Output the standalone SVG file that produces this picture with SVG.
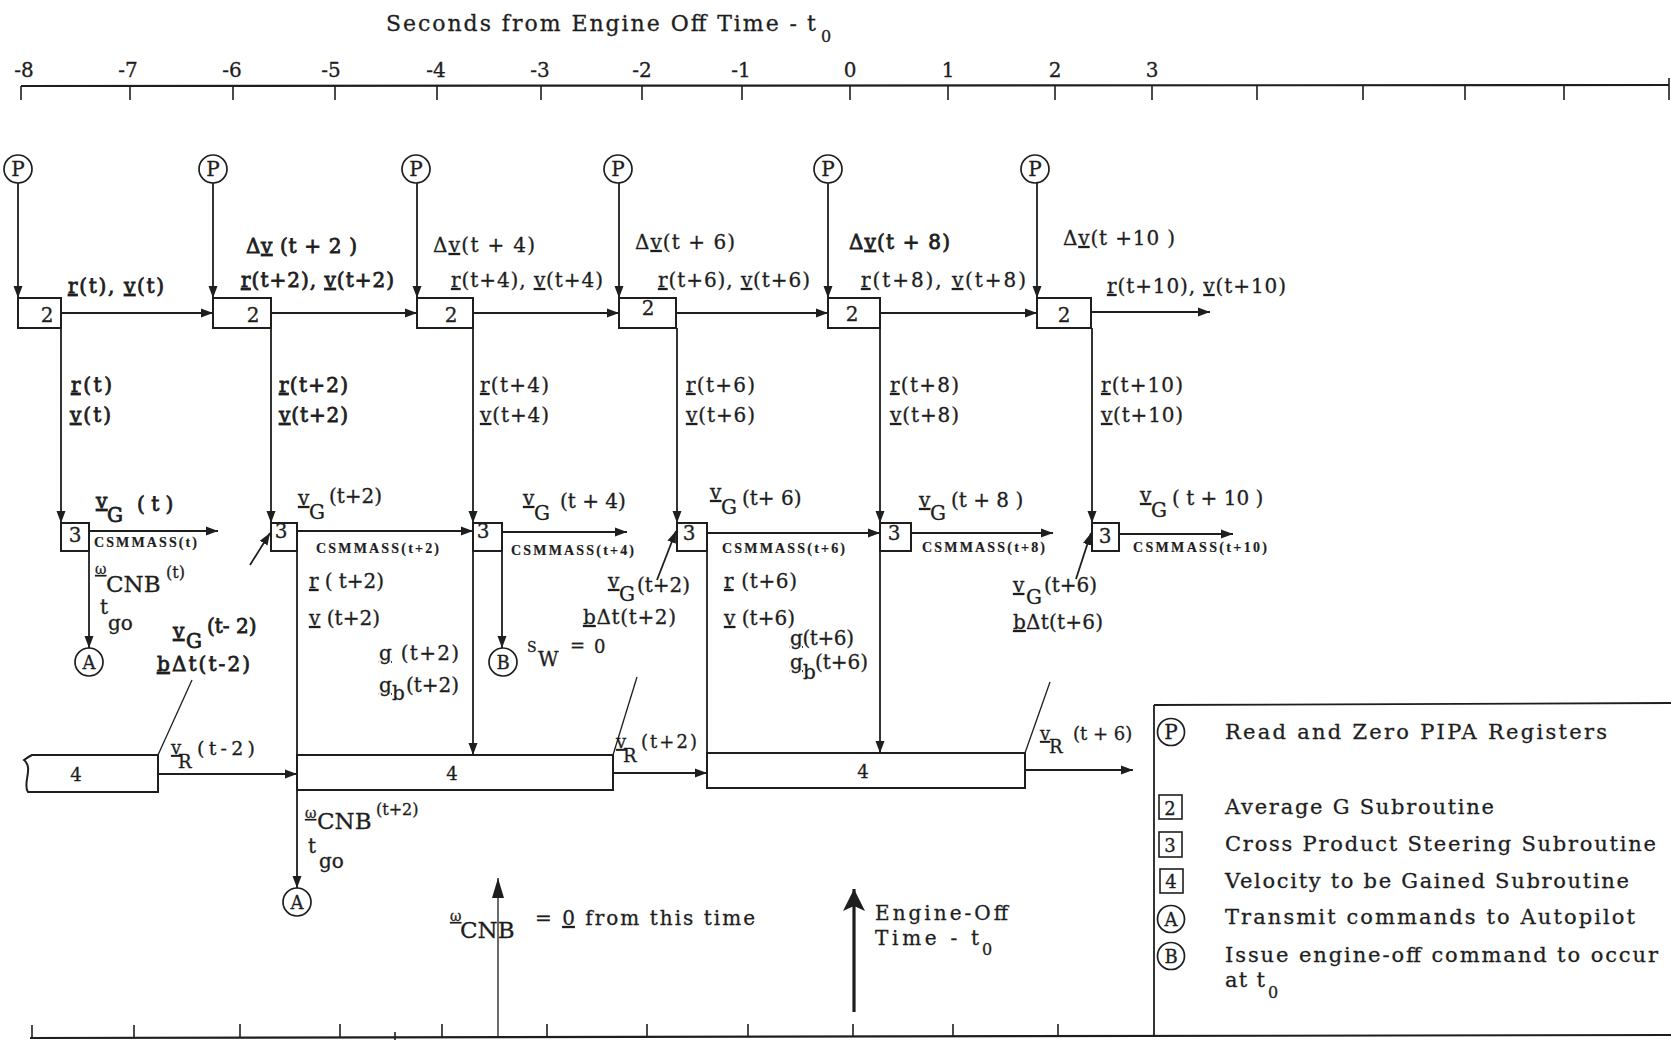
<svg xmlns="http://www.w3.org/2000/svg" width="1671" height="1040" viewBox="0 0 1671 1040">
<defs>
<style>
text{font-family:"DejaVu Serif","Liberation Serif",serif;fill:#1e1e1e;stroke:#1e1e1e;stroke-width:0.3}
.l{font-size:20px}
.m{font-size:18px}
.s{font-size:16px}
.xs{font-size:14px}
.h{stroke-width:0.8}
.cm{font-family:"Liberation Serif",serif;font-weight:bold;font-size:14px;stroke-width:0.2}
.u{text-decoration:underline}
.ln{stroke:#1e1e1e;stroke-width:1.8;fill:none}
.thin{stroke:#1e1e1e;stroke-width:1.3;fill:none}
.ax{stroke:#1e1e1e;stroke-width:2.2;fill:none}
.tk{stroke:#1e1e1e;stroke-width:1.6;fill:none}
.bx{stroke:#1e1e1e;stroke-width:2;fill:#fff}
.c{stroke:#1e1e1e;stroke-width:1.7;fill:#fff}
.lg{font-size:21px}
</style>
<marker id="ah" viewBox="0 0 12 10" refX="12" refY="5" markerWidth="12" markerHeight="10" markerUnits="userSpaceOnUse" orient="auto"><path d="M0,0.5 L12,5 L0,9.5 z" fill="#1e1e1e"/></marker>
<marker id="mid" viewBox="0 0 20 12" refX="20" refY="6" markerWidth="20" markerHeight="12" markerUnits="userSpaceOnUse" orient="auto"><path d="M0,0 L20,6 L0,12 z" fill="#1e1e1e"/></marker>
<marker id="big" viewBox="0 0 22 22" refX="22" refY="11" markerWidth="22" markerHeight="22" markerUnits="userSpaceOnUse" orient="auto"><path d="M0,0 L22,11 L0,22 L5,11 z" fill="#1e1e1e"/></marker>
</defs>
<rect width="1671" height="1040" fill="#fff"/>

<g id="top-axis">
<text x="386" y="31" style="font-size:22px" textLength="411">Seconds from Engine Off Time -</text>
<text x="807" y="31" style="font-size:22px">t</text>
<text x="821" y="42" class="s">0</text>
<path class="ax" d="M21,86 L1669,85"/>
<path class="tk" d="M21,86 V100 M130,86 V100 M233,86 V100 M335,86 V100 M437,86 V100 M541,86 V100 M642,86 V100 M742,86 V100 M850,86 V100 M948,86 V100 M1055,86 V100 M1152,86 V100 M1257,86 V100 M1363,86 V100 M1465,86 V100 M1564,86 V100 M1669,78 V100"/>
<g class="l" text-anchor="middle">
<text x="24" y="77">-8</text><text x="128" y="77">-7</text><text x="232" y="77">-6</text><text x="331" y="77">-5</text>
<text x="436" y="77">-4</text><text x="540" y="77">-3</text><text x="642" y="77">-2</text><text x="741" y="77">-1</text>
<text x="850" y="77">0</text><text x="948" y="77">1</text><text x="1055" y="77">2</text><text x="1152" y="77">3</text>
</g>
</g>

<g id="bottom-axis">
<path class="ax" d="M30,1038 L1671,1035"/>
<path class="tk" d="M32,1038 V1025 M134,1038 V1025 M240,1037 V1024 M340,1037 V1024 M442,1037 V1024 M547,1037 V1024 M647,1037 V1024 M748,1037 V1024 M853,1037 V1024 M953,1037 V1024 M1058,1037 V1024 M395,1032 V1043"/>
</g>

<g id="connectors">
<path class="ln" marker-end="url(#ah)" d="M18,183 V298"/>
<path class="ln" marker-end="url(#ah)" d="M213,183 V298"/>
<path class="ln" marker-end="url(#ah)" d="M417,183 V298"/>
<path class="ln" marker-end="url(#ah)" d="M619,183 V298"/>
<path class="ln" marker-end="url(#ah)" d="M828,183 V298"/>
<path class="ln" marker-end="url(#ah)" d="M1037,183 V298"/>
<path class="ln" marker-end="url(#ah)" d="M61,313 H213"/>
<path class="ln" marker-end="url(#ah)" d="M271,313 H417"/>
<path class="ln" marker-end="url(#ah)" d="M473,313 H619"/>
<path class="ln" marker-end="url(#ah)" d="M676,313 H828"/>
<path class="ln" marker-end="url(#ah)" d="M880,313 H1037"/>
<path class="ln" marker-end="url(#ah)" d="M1091,312 H1210"/>
<path class="ln" marker-end="url(#ah)" d="M61,328 V523"/>
<path class="ln" marker-end="url(#ah)" d="M271,328 V523"/>
<path class="ln" marker-end="url(#ah)" d="M473,328 V523"/>
<path class="ln" marker-end="url(#ah)" d="M677,328 V523"/>
<path class="ln" marker-end="url(#ah)" d="M880,328 V523"/>
<path class="ln" marker-end="url(#ah)" d="M1092,328 V523"/>
<path class="ln" marker-end="url(#ah)" d="M89,531 H218"/>
<path class="ln" marker-end="url(#ah)" d="M297,531 H473"/>
<path class="ln" marker-end="url(#ah)" d="M502,532 H627"/>
<path class="ln" marker-end="url(#ah)" d="M707,533 H880"/>
<path class="ln" marker-end="url(#ah)" d="M911,533 H1053"/>
<path class="ln" marker-end="url(#ah)" d="M1119,534 H1233"/>
<path class="ln" marker-end="url(#ah)" d="M89,551 V648"/>
<path class="ln" marker-end="url(#ah)" d="M297,551 V888"/>
<path class="ln" marker-end="url(#ah)" d="M473,551 V755"/>
<path class="ln" marker-end="url(#ah)" d="M502,551 V648"/>
<path class="ln" d="M707,551 V753"/>
<path class="ln" marker-end="url(#ah)" d="M880,551 V753"/>
<path class="ln" marker-end="url(#ah)" d="M250,565 L270,533"/>
<path class="ln" marker-end="url(#ah)" d="M657,580 L676,531"/>
<path class="ln" marker-end="url(#ah)" d="M1076,579 L1091,533"/>
<path class="thin" d="M192,680 L158,755"/>
<path class="thin" d="M637,677 L613,755"/>
<path class="thin" d="M1050,682 L1025,753"/>
<path class="ln" marker-end="url(#ah)" d="M158,774 H297"/>
<path class="ln" marker-end="url(#ah)" d="M613,773 H707"/>
<path class="ln" marker-end="url(#ah)" d="M1025,770 H1133"/>
<path class="thin" marker-end="url(#mid)" d="M498,1038 V878"/>
<path stroke="#1e1e1e" stroke-width="3.2" fill="none" marker-end="url(#big)" d="M854,1012 V889"/>
</g>

<g id="P1"><circle class="c" cx="18" cy="169" r="14"/><text x="18" y="176" class="l" text-anchor="middle">P</text></g>
<g id="P2"><circle class="c" cx="213" cy="169" r="14"/><text x="213" y="176" class="l" text-anchor="middle">P</text></g>
<g id="P3"><circle class="c" cx="416" cy="169" r="14"/><text x="416" y="176" class="l" text-anchor="middle">P</text></g>
<g id="P4"><circle class="c" cx="618" cy="169" r="14"/><text x="618" y="176" class="l" text-anchor="middle">P</text></g>
<g id="P5"><circle class="c" cx="828" cy="169" r="14"/><text x="828" y="176" class="l" text-anchor="middle">P</text></g>
<g id="P6"><circle class="c" cx="1035" cy="169" r="14"/><text x="1035" y="176" class="l" text-anchor="middle">P</text></g>

<g id="avg1"><rect class="bx" x="18" y="298" width="43" height="30"/><text x="47" y="322" class="l" text-anchor="middle">2</text></g>
<g id="avg2"><rect class="bx" x="213" y="298" width="58" height="30"/><text x="253" y="322" class="l" text-anchor="middle">2</text></g>
<g id="avg3"><rect class="bx" x="417" y="298" width="56" height="30"/><text x="451" y="322" class="l" text-anchor="middle">2</text></g>
<g id="avg4"><rect class="bx" x="619" y="298" width="57" height="30"/><text x="648" y="315" class="l" text-anchor="middle">2</text></g>
<g id="avg5"><rect class="bx" x="828" y="298" width="52" height="30"/><text x="852" y="321" class="l" text-anchor="middle">2</text></g>
<g id="avg6"><rect class="bx" x="1037" y="298" width="54" height="30"/><text x="1064" y="322" class="l" text-anchor="middle">2</text></g>

<g id="cps1"><rect class="bx" x="61" y="523" width="28" height="28"/><text x="75" y="542" class="l" text-anchor="middle">3</text></g>
<g id="cps2"><rect class="bx" x="271" y="523" width="26" height="28"/><text x="281" y="538" class="l" text-anchor="middle">3</text></g>
<g id="cps3"><rect class="bx" x="473" y="523" width="29" height="28"/><text x="483" y="538" class="l" text-anchor="middle">3</text></g>
<g id="cps4"><rect class="bx" x="677" y="523" width="30" height="28"/><text x="689" y="540" class="l" text-anchor="middle">3</text></g>
<g id="cps5"><rect class="bx" x="880" y="523" width="31" height="28"/><text x="894" y="540" class="l" text-anchor="middle">3</text></g>
<g id="cps6"><rect class="bx" x="1092" y="523" width="27" height="28"/><text x="1105" y="543" class="l" text-anchor="middle">3</text></g>

<g id="vtg1"><path class="bx" d="M32,755 H158 V792 H28 C22,784 34,768 24,760 C28,757 30,756 32,755 z"/><text x="76" y="781" class="m" text-anchor="middle">4</text></g>
<g id="vtg2"><rect class="bx" x="297" y="755" width="316" height="35"/><text x="452" y="780" class="m" text-anchor="middle">4</text></g>
<g id="vtg3"><rect class="bx" x="707" y="753" width="318" height="35"/><text x="863" y="778" class="m" text-anchor="middle">4</text></g>

<g id="A1"><circle class="c" cx="89" cy="662" r="14"/><text x="89" y="669" class="m" text-anchor="middle">A</text></g>
<g id="A2"><circle class="c" cx="297" cy="902" r="14"/><text x="297" y="909" class="m" text-anchor="middle">A</text></g>
<g id="B1"><circle class="c" cx="503" cy="662" r="14"/><text x="503" y="669" class="m" text-anchor="middle">B</text></g>

<g id="labels">
<text class="l h" x="68" y="293" textLength="96"><tspan class="u">r</tspan>(t), <tspan class="u">v</tspan>(t)</text>
<text class="l h" x="246" y="253" textLength="111">Δ<tspan class="u">v</tspan> (t + 2 )</text>
<text class="l h" x="241" y="287" textLength="153"><tspan class="u">r</tspan>(t+2), <tspan class="u">v</tspan>(t+2)</text>
<text class="l" x="433" y="252" textLength="102">Δ<tspan class="u">v</tspan>(t + 4)</text>
<text class="l" x="451" y="287" textLength="152"><tspan class="u">r</tspan>(t+4), <tspan class="u">v</tspan>(t+4)</text>
<text class="l" x="635" y="249" textLength="100">Δ<tspan class="u">v</tspan>(t + 6)</text>
<text class="l" x="658" y="287" textLength="152"><tspan class="u">r</tspan>(t+6), <tspan class="u">v</tspan>(t+6)</text>
<text class="l h" x="849" y="249" textLength="101">Δ<tspan class="u">v</tspan>(t + 8)</text>
<text class="l" x="861" y="287" textLength="165"><tspan class="u">r</tspan>(t+8), <tspan class="u">v</tspan>(t+8)</text>
<text class="l" x="1063" y="245" textLength="112">Δ<tspan class="u">v</tspan>(t +10 )</text>
<text class="l" x="1107" y="293" textLength="179"><tspan class="u">r</tspan>(t+10), <tspan class="u">v</tspan>(t+10)</text>
<text class="l h" x="71" y="392" textLength="41"><tspan class="u">r</tspan>(t)</text>
<text class="l h" x="70" y="422" textLength="41"><tspan class="u">v</tspan>(t)</text>
<text class="l h" x="279" y="392" textLength="69"><tspan class="u">r</tspan>(t+2)</text>
<text class="l h" x="279" y="422" textLength="69"><tspan class="u">v</tspan>(t+2)</text>
<text class="l" x="480" y="392" textLength="69"><tspan class="u">r</tspan>(t+4)</text>
<text class="l" x="480" y="422" textLength="69"><tspan class="u">v</tspan>(t+4)</text>
<text class="l" x="686" y="392" textLength="69"><tspan class="u">r</tspan>(t+6)</text>
<text class="l" x="686" y="422" textLength="69"><tspan class="u">v</tspan>(t+6)</text>
<text class="l" x="890" y="392" textLength="69"><tspan class="u">r</tspan>(t+8)</text>
<text class="l" x="890" y="422" textLength="69"><tspan class="u">v</tspan>(t+8)</text>
<text class="l" x="1101" y="392" textLength="82"><tspan class="u">r</tspan>(t+10)</text>
<text class="l" x="1101" y="422" textLength="82"><tspan class="u">v</tspan>(t+10)</text>
<text class="l h"><tspan class="u" x="96" y="508">v</tspan><tspan x="107" y="522">G</tspan><tspan x="137" y="511">( t )</tspan></text>
<text class="l"><tspan class="u" x="298" y="505">v</tspan><tspan x="309" y="519">G</tspan><tspan x="329" y="503">(t+2)</tspan></text>
<text class="l"><tspan class="u" x="523" y="505">v</tspan><tspan x="534" y="520">G</tspan><tspan x="560" y="508">(t + 4)</tspan></text>
<text class="l"><tspan class="u" x="710" y="499">v</tspan><tspan x="721" y="514">G</tspan><tspan x="742" y="505">(t+ 6)</tspan></text>
<text class="l"><tspan class="u" x="919" y="507">v</tspan><tspan x="930" y="520">G</tspan><tspan x="951" y="507">(t + 8 )</tspan></text>
<text class="l"><tspan class="u" x="1140" y="502">v</tspan><tspan x="1151" y="517">G</tspan><tspan x="1172" y="505">( t + 10 )</tspan></text>
<text class="cm" x="94" y="547" textLength="103">CSMMASS(t)</text>
<text class="cm" x="316" y="553" textLength="123">CSMMASS(t+2)</text>
<text class="cm" x="511" y="555" textLength="123">CSMMASS(t+4)</text>
<text class="cm" x="722" y="553" textLength="123">CSMMASS(t+6)</text>
<text class="cm" x="922" y="552" textLength="123">CSMMASS(t+8)</text>
<text class="cm" x="1133" y="552" textLength="134">CSMMASS(t+10)</text>
<text><tspan class="xs u" x="95" y="574">ω</tspan><tspan style="font-size:23px" x="106" y="592">CNB</tspan><tspan class="s" x="166" y="578">(t)</tspan></text>
<text class="l"><tspan x="100" y="614">t</tspan><tspan x="108" y="630">go</tspan></text>
<text class="l h"><tspan class="u" x="173" y="638">v</tspan><tspan x="186" y="648">G</tspan><tspan x="207" y="633">(t- 2)</tspan></text>
<text class="l h" x="157" y="671" textLength="93"><tspan class="u">b</tspan>Δt(t-2)</text>
<text class="l" x="309" y="588" textLength="75"><tspan class="u">r</tspan> ( t+2)</text>
<text class="l" x="309" y="625" textLength="71"><tspan class="u">v</tspan> (t+2)</text>
<text class="l" x="379" y="660" textLength="80"><tspan class="u">g</tspan>  (t+2)</text>
<text class="l"><tspan class="u" x="379" y="692">g</tspan><tspan x="392" y="700">b</tspan><tspan x="406" y="692">(t+2)</tspan></text>
<text><tspan class="xs" x="527" y="652">S</tspan><tspan class="l" x="538" y="666">W</tspan><tspan class="m" x="570" y="652">=</tspan><tspan class="m" x="594" y="653">0</tspan></text>
<text class="l"><tspan class="u" x="608" y="588">v</tspan><tspan x="619" y="601">G</tspan><tspan x="637" y="592">(t+2)</tspan></text>
<text class="l" x="583" y="624" textLength="93"><tspan class="u">b</tspan>Δt(t+2)</text>
<text class="l" x="724" y="588" textLength="73"><tspan class="u">r</tspan> (t+6)</text>
<text class="l" x="724" y="625" textLength="71"><tspan class="u">v</tspan> (t+6)</text>
<text class="l" x="790" y="645" textLength="64"><tspan class="u">g</tspan>(t+6)</text>
<text class="l"><tspan class="u" x="790" y="669">g</tspan><tspan x="803" y="679">b</tspan><tspan x="815" y="669">(t+6)</tspan></text>
<text class="l"><tspan class="u" x="1013" y="592">v</tspan><tspan x="1026" y="604">G</tspan><tspan x="1044" y="592">(t+6)</tspan></text>
<text class="l" x="1013" y="629" textLength="90"><tspan class="u">b</tspan>Δt(t+6)</text>
<text class="m"><tspan class="u" x="171" y="754">v</tspan><tspan x="178" y="768">R</tspan></text>
<text x="197" y="755" style="font-size:19px" textLength="58">(t-2)</text>
<text class="m"><tspan class="u" x="616" y="748">v</tspan><tspan x="623" y="762">R</tspan></text>
<text x="641" y="748" class="m" textLength="56">(t+2)</text>
<text class="m"><tspan class="u" x="1040" y="740">v</tspan><tspan x="1049" y="753">R</tspan><tspan x="1073" y="740">(t + 6)</tspan></text>
<text><tspan class="xs u" x="305" y="818">ω</tspan><tspan style="font-size:23px" x="317" y="829">CNB</tspan><tspan class="s" x="376" y="815">(t+2)</tspan></text>
<text class="l"><tspan x="308" y="853">t</tspan><tspan x="319" y="868">go</tspan></text>
<text><tspan class="xs u" x="450" y="921">ω</tspan><tspan style="font-size:23px" x="460" y="938">CNB</tspan></text>
<text class="l" x="535" y="925" textLength="220">= <tspan class="u">0</tspan> from this time</text>
<text class="l" x="875" y="920" textLength="133">Engine-Off</text>
<text class="l" x="875" y="945" textLength="104">Time - t</text>
<text class="s" x="982" y="955">0</text>
</g>

<g id="legend">
<path class="ln" d="M1154,705 L1671,703 M1154,705 V1037"/>
<circle class="c" cx="1171" cy="732" r="13.5"/><text x="1171" y="739" class="l" text-anchor="middle">P</text>
<text class="lg" x="1225" y="739" textLength="382">Read and Zero PIPA Registers</text>
<rect class="bx" x="1159" y="795" width="23" height="24" style="stroke-width:1.6"/><text x="1170" y="815" class="m" text-anchor="middle">2</text>
<text class="lg" x="1225" y="814" textLength="269">Average G Subroutine</text>
<rect class="bx" x="1159" y="832" width="23" height="25" style="stroke-width:1.6"/><text x="1170" y="852" class="m" text-anchor="middle">3</text>
<text class="lg" x="1225" y="851" textLength="431">Cross Product Steering Subroutine</text>
<rect class="bx" x="1160" y="869" width="23" height="24" style="stroke-width:1.6"/><text x="1171" y="888" class="m" text-anchor="middle">4</text>
<text class="lg" x="1225" y="888" textLength="404">Velocity to be Gained Subroutine</text>
<circle class="c" cx="1171" cy="919" r="13.5"/><text x="1171" y="926" class="m" text-anchor="middle">A</text>
<text class="lg" x="1225" y="924" textLength="410">Transmit commands to Autopilot</text>
<circle class="c" cx="1171" cy="956" r="13.5"/><text x="1171" y="963" class="m" text-anchor="middle">B</text>
<text class="lg" x="1225" y="962" textLength="433">Issue engine-off command to occur</text>
<text class="lg" x="1225" y="987" textLength="40">at t</text>
<text class="s" x="1268" y="998">0</text>
</g>
</svg>
